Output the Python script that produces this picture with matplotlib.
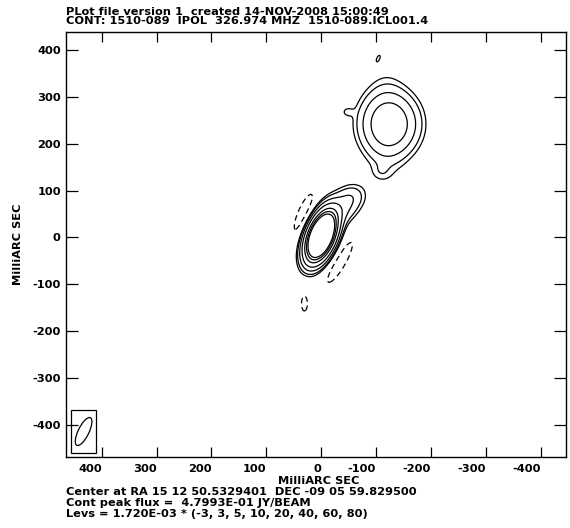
import numpy as np
import matplotlib
matplotlib.use("Agg")
from matplotlib import pyplot as plt
from matplotlib.patches import Ellipse, Rectangle
import matplotlib.transforms as mtransforms

plt.rcParams['font.family'] = ['DejaVu Sans']
plt.rcParams['font.weight'] = 'bold'

# ----------------------------------
# Source model (mas offsets, Jy/beam)
# ----------------------------------
comp_name = ['core', 'jet', 'jet_outer', 'lobe', 'lobe_ns', 'lobe_bump',
             'lobe_tail', 'neg_east', 'neg_west', 'neg_south', 'knot_north']
comp_x = [0.0, -40.0, -55.0, -125.0, -118.0, -47.0, -110.0, 32.0, -34.0, 31.0, -104.0]
comp_y = [3.0, 65.0, 90.0, 242.0, 235.0, 268.0, 140.0, 52.0, -53.0, -140.0, 382.0]
comp_peak = [0.4788, 0.020, 0.004, 0.056, 0.009, 0.005, 0.004,
             -0.0075, -0.0075, -0.006, 0.006]
comp_smaj = [30.0, 30.0, 14.0, 38.0, 75.0, 8.0, 12.0, 50.0, 55.0, 25.0, 8.0]
comp_smin = [13.0, 18.0, 14.0, 30.0, 25.0, 8.0, 12.0, 12.0, 12.0, 8.0, 3.0]
comp_pa = [-17.0, -35.0, 0.0, 0.0, 0.0, 0.0, 0.0, -20.0, -26.0, 0.0, -20.0]

base_level = 1.720E-03
level_mult = [-3, 3, 5, 10, 20, 40, 60, 80]

# restoring beam (FWHM, mas) drawn in the corner
beam_x, beam_y = 433.0, -414.0
beam_maj, beam_min, beam_pa = 64.0, 20.0, -22.0
box_x0, box_x1 = 456.5, 410.4
box_y0, box_y1 = -460.0, -369.0

xticks = [400, 300, 200, 100, 0, -100, -200, -300, -400]
yticks = [400, 300, 200, 100, 0, -100, -200, -300, -400]

# ----------------------------------
# Build the map
# ----------------------------------
xs = np.arange(-450.0, 471.0, 1.0)
ys = np.arange(-475.0, 446.0, 1.0)
X, Y = np.meshgrid(xs, ys)
Z = np.zeros_like(X)
for x0, y0, p, smaj, smin, pa in zip(comp_x, comp_y, comp_peak,
                                     comp_smaj, comp_smin, comp_pa):
    t = np.radians(pa)
    dx = X - x0
    dy = Y - y0
    u = dx * np.sin(t) + dy * np.cos(t)     # along major axis
    v = dx * np.cos(t) - dy * np.sin(t)     # along minor axis
    Z += p * np.exp(-0.5 * ((u / smaj) ** 2 + (v / smin) ** 2))

levels = np.array(level_mult) * base_level
neg = levels[levels < 0]
pos = levels[levels > 0]

# ----------------------------------
# Plot
# ----------------------------------
fig = plt.figure(figsize=(5.70, 5.28), dpi=100)
ax = fig.add_axes([65.7 / 570, 1 - 457.3 / 528, 500.0 / 570, 425.6 / 528])

ax.contour(X, Y, Z, levels=pos, colors='black', linewidths=0.9,
           linestyles='solid')
ax.contour(X, Y, Z, levels=neg, colors='black', linewidths=0.9,
           linestyles=[(0, (4.5, 3.0))])

ax.set_xlim(465.6, -445.6)
ax.set_ylim(-469.0, 439.0)

# beam
ang = np.degrees(np.arctan2(np.cos(np.radians(beam_pa)),
                            np.sin(np.radians(beam_pa))))
ax.add_patch(Ellipse((beam_x, beam_y), beam_maj, beam_min, angle=ang,
                     fill=False, edgecolor='black', lw=0.9))
ax.add_patch(Rectangle((box_x1, box_y0), box_x0 - box_x1, box_y1 - box_y0,
                       fill=False, edgecolor='black', lw=0.9))

fs = 8.2
ax.set_xticks(xticks)
ax.set_yticks(yticks)
ax.set_xticklabels([str(t) for t in xticks], ha='right')
ax.set_yticklabels([str(t) for t in yticks])
offset = mtransforms.ScaledTranslation(4 / 100, 0, fig.dpi_scale_trans)
for lab in ax.get_xticklabels():
    lab.set_transform(lab.get_transform() + offset)
ax.tick_params(direction='in', top=True, right=True, length=7.5, width=0.9,
               labelsize=fs, pad=4.5)
ax.tick_params(axis='y', length=8.5, pad=3.5)
for s in ax.spines.values():
    s.set_linewidth(1.0)

fig.text(66.5 / 570, 1 - 15 / 528, 'PLot file version 1  created 14-NOV-2008 15:00:49',
         fontsize=fs, fontweight='bold', va='baseline')
fig.text(66.5 / 570, 1 - 24.5 / 528, 'CONT: 1510-089  IPOL  326.974 MHZ  1510-089.ICL001.4',
         fontsize=fs, fontweight='bold', va='baseline')
fig.text(319 / 570, 1 - 483.5 / 528, 'MilliARC SEC', fontsize=fs,
         fontweight='bold', ha='center', va='baseline')
fig.text(23 / 570, 1 - 244.5 / 528, 'MilliARC SEC', fontsize=fs,
         fontweight='bold', rotation=90, ha='right', va='center')
fig.text(66.5 / 570, 1 - 495 / 528, 'Center at RA 15 12 50.5329401  DEC -09 05 59.829500',
         fontsize=fs, fontweight='bold', va='baseline')
fig.text(66.5 / 570, 1 - 506 / 528, 'Cont peak flux =  4.7993E-01 JY/BEAM',
         fontsize=fs, fontweight='bold', va='baseline')
fig.text(66.5 / 570, 1 - 517 / 528, 'Levs = 1.720E-03 * (-3, 3, 5, 10, 20, 40, 60, 80)',
         fontsize=fs, fontweight='bold', va='baseline')

fig.savefig('out.png', dpi=100)
